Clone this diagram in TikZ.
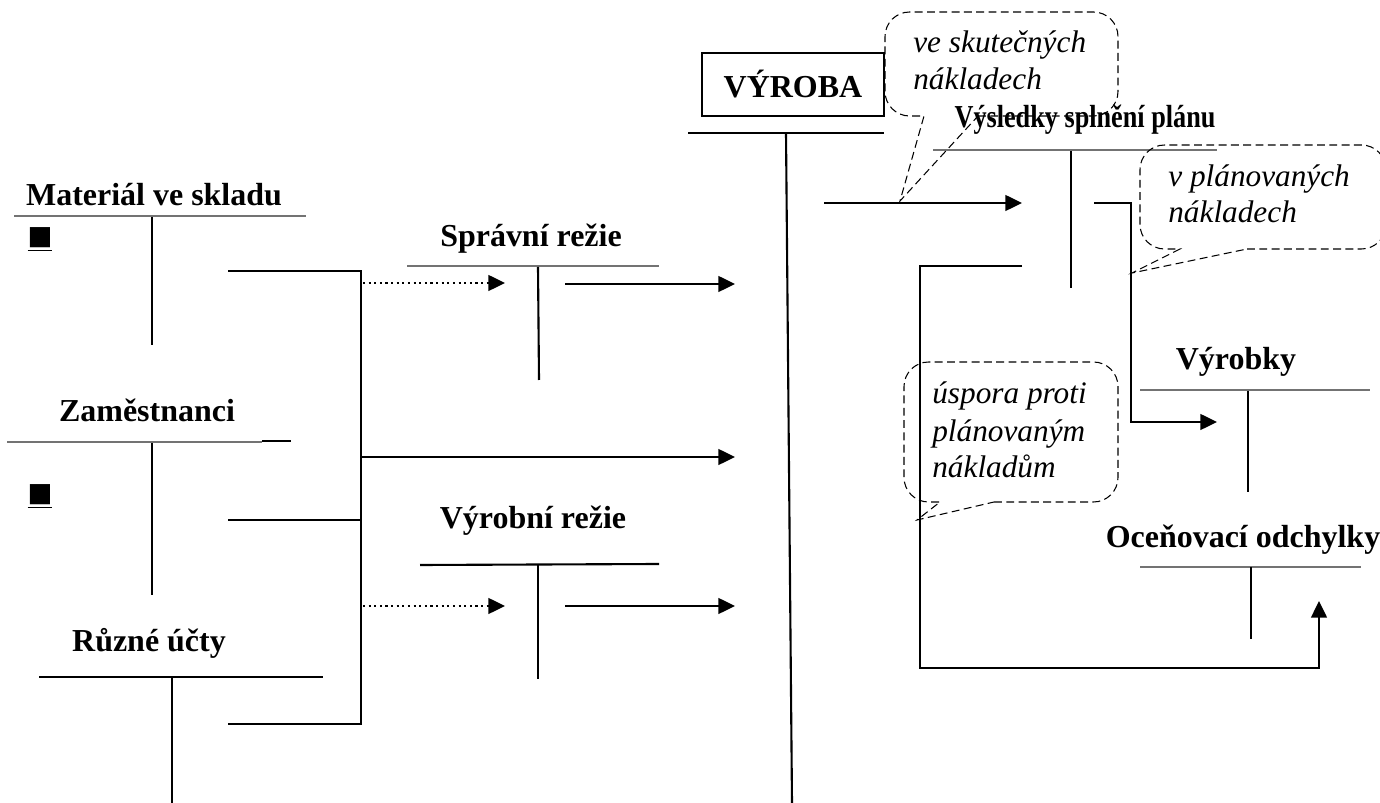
\documentclass[tikz,border=0pt]{standalone}
\usepackage{fontspec}
\setmainfont{Liberation Serif}
\newfontfamily\symfont{DejaVu Sans}
\usetikzlibrary{arrows.meta}
\begin{document}
\begin{tikzpicture}[x=0.02cm,y=-0.02cm,
  lbl/.style={font=\fontsize{18.2}{22}\selectfont\bfseries, inner sep=0pt, anchor=base},
  ctext/.style={font=\fontsize{17.8}{21}\selectfont\itshape, inner sep=0pt, anchor=base west},
  sq/.style={font=\fontsize{15}{17}\selectfont\symfont, inner sep=0pt, anchor=base},
  bl/.style={line width=1.2pt},
  gl/.style={line width=1.1pt, draw=black!55},
  arr/.style={line width=1.2pt, -{Triangle[length=9.5pt,width=9pt]}},
  darr/.style={arr, dotted},
  callout/.style={line width=0.6pt, dash pattern=on 4.5pt off 2.5pt}
]
\useasboundingbox (0,0) rectangle (1380,803);

% ---------- left accounts ----------
\node[lbl] (mat) at (154,206) {Materiál ve skladu};
\coordinate (matL) at (14,216); \coordinate (matR) at (306,216);
\coordinate (matT) at (152,217); \coordinate (matB) at (152,345);
\draw[gl] (matL) -- (matR);
\draw[bl] (matT) -- (matB);
\node[sq] (sq1) at (40,245) {\underline{■}};

\node[lbl] (zam) at (147,422) {Zaměstnanci};
\coordinate (zamL) at (7,442); \coordinate (zamM) at (262,442); \coordinate (zamR) at (291,441);
\coordinate (zamT) at (152,443); \coordinate (zamB) at (152,595);
\draw[gl] (zamL) -- (zamM);
\draw[bl] (zamM |- zamR) -- (zamR);
\draw[bl] (zamT) -- (zamB);
\node[sq] (sq2) at (40,502) {\underline{■}};

\node[lbl] (ruz) at (149,652) {Různé účty};
\coordinate (ruzL) at (39,677); \coordinate (ruzR) at (323,677);
\coordinate (ruzT) at (172,677); \coordinate (ruzB) at (172,803);
\draw[bl] (ruzL) -- (ruzR);
\draw[bl] (ruzT) -- (ruzB);

% ---------- collector ----------
\coordinate (o1) at (228,271); \coordinate (c1) at (361,271);
\coordinate (o2) at (228,520); \coordinate (c2) at (361,520);
\coordinate (o3) at (228,724); \coordinate (c3) at (361,724);
\coordinate (cm) at (361,457);
\draw[bl] (o1) -- (c1) -- (c3) -- (o3);
\draw[bl] (o2) -- (c2);

% ---------- overhead accounts ----------
\node[lbl] (spr) at (531,247) {Správní režie};
\coordinate (sprL) at (407,266); \coordinate (sprR) at (659,266);
\coordinate (sprT) at (538,267); \coordinate (sprB) at (539,380);
\draw[gl] (sprL) -- (sprR);
\draw[bl] (sprT) -- (sprB);

\node[lbl] (vyr) at (533,529) {Výrobní režie};
\coordinate (vyrL) at (420,565); \coordinate (vyrR) at (659,564);
\coordinate (vyrT) at (538,565); \coordinate (vyrB) at (538,679);
\draw[bl] (vyrL) -- (vyrR);
\draw[bl] (vyrT) -- (vyrB);

\coordinate (d1s) at (363,283); \coordinate (d1e) at (505,283);
\coordinate (d2s) at (363,606); \coordinate (d2e) at (505,606);
\draw[darr] (d1s) -- (d1e);
\draw[darr] (d2s) -- (d2e);

\coordinate (a1s) at (565,284); \coordinate (a1e) at (735,284);
\coordinate (a2e) at (735,457);
\coordinate (a3s) at (565,606); \coordinate (a3e) at (735,606);
\draw[arr] (a1s) -- (a1e);
\draw[arr] (cm) -- (a2e);
\draw[arr] (a3s) -- (a3e);

% ---------- VÝROBA ----------
\node[draw, line width=1.2pt, inner sep=0pt,
      minimum width=3.64cm, minimum height=1.26cm,
      font=\fontsize{18.2}{22}\selectfont\bfseries] (vyroba) at (793,84.5) {VÝROBA};
\coordinate (vL) at (688,133); \coordinate (vR) at (884,133);
\coordinate (vT) at (786,133); \coordinate (vB) at (792,803);
\draw[bl] (vL) -- (vR);
\draw[bl] (vT) -- (vB);
\coordinate (a4s) at (824,203); \coordinate (a4e) at (1022,203);
\draw[arr] (a4s) -- (a4e);

% ---------- Výsledky splnění plánu ----------
\node[lbl] (vys) at (1085,128) {\scalebox{0.82}[1]{Výsledky splnění plánu}};
\coordinate (vysL) at (933,150); \coordinate (vysR) at (1217,150);
\coordinate (vysT) at (1071,151); \coordinate (vysB) at (1071,288);
\draw[gl] (vysL) -- (vysR);
\draw[bl] (vysT) -- (vysB);
\coordinate (r1) at (1094,203); \coordinate (r2) at (1131,203);
\coordinate (r3) at (1131,422); \coordinate (r4) at (1217,422);
\draw[arr] (r1) -- (r2) -- (r3) -- (r4);
\coordinate (l1) at (1022,266); \coordinate (l2) at (920,266);
\coordinate (l3) at (920,668); \coordinate (l4) at (1319,668);
\coordinate (l5) at (1319,601);
\draw[arr] (l1) -- (l2) -- (l3) -- (l4) -- (l5);

% ---------- Výrobky ----------
\node[lbl] (vyrobky) at (1236,370) {Výrobky};
\coordinate (vkL) at (1140,390); \coordinate (vkR) at (1370,390);
\coordinate (vkT) at (1248,391); \coordinate (vkB) at (1248,492);
\draw[gl] (vkL) -- (vkR);
\draw[bl] (vkT) -- (vkB);

% ---------- Oceňovací odchylky ----------
\node[lbl] (oce) at (1243,548) {Oceňovací odchylky};
\coordinate (ocL) at (1140,567); \coordinate (ocR) at (1361,567);
\coordinate (ocT) at (1251,567); \coordinate (ocB) at (1251,639);
\draw[line width=0.7pt, draw=black!55] (ocL) -- (ocR);
\draw[bl] (ocT) -- (ocB);

% ---------- callouts ----------
\coordinate (k1a) at (924,116); \coordinate (k1b) at (978,116); \coordinate (k1t) at (900,201);
\draw[callout] (k1b) [rounded corners=14pt] -- (1118,116) -- (1118,12) -- (885,12) -- (885,116) [sharp corners] -- (k1a) -- (k1t) -- cycle;
\node[ctext] (t1a) at (913,53) {ve skutečných};
\node[ctext] (t1b) at (913,90) {nákladech};

\coordinate (k2a) at (1180,249); \coordinate (k2b) at (1247,249); \coordinate (k2t) at (1132,273);
\draw[callout] (k2b) [rounded corners=14pt] -- (1386,249) -- (1386,145) -- (1140,145) -- (1140,249) [sharp corners] -- (k2a) -- (k2t) -- cycle;
\node[ctext] (t2a) at (1168,187) {v plánovaných};
\node[ctext] (t2b) at (1168,223) {nákladech};

\coordinate (k3a) at (940,502); \coordinate (k3b) at (994,502); \coordinate (k3t) at (917,520);
\draw[callout] (k3b) [rounded corners=14pt] -- (1118,502) -- (1118,362) -- (904,362) -- (904,502) [sharp corners] -- (k3a) -- (k3t) -- cycle;
\node[ctext] (t3a) at (932,404) {úspora proti};
\node[ctext] (t3b) at (932,442) {plánovaným};
\node[ctext] (t3c) at (932,478) {nákladům};
\end{tikzpicture}
\end{document}
